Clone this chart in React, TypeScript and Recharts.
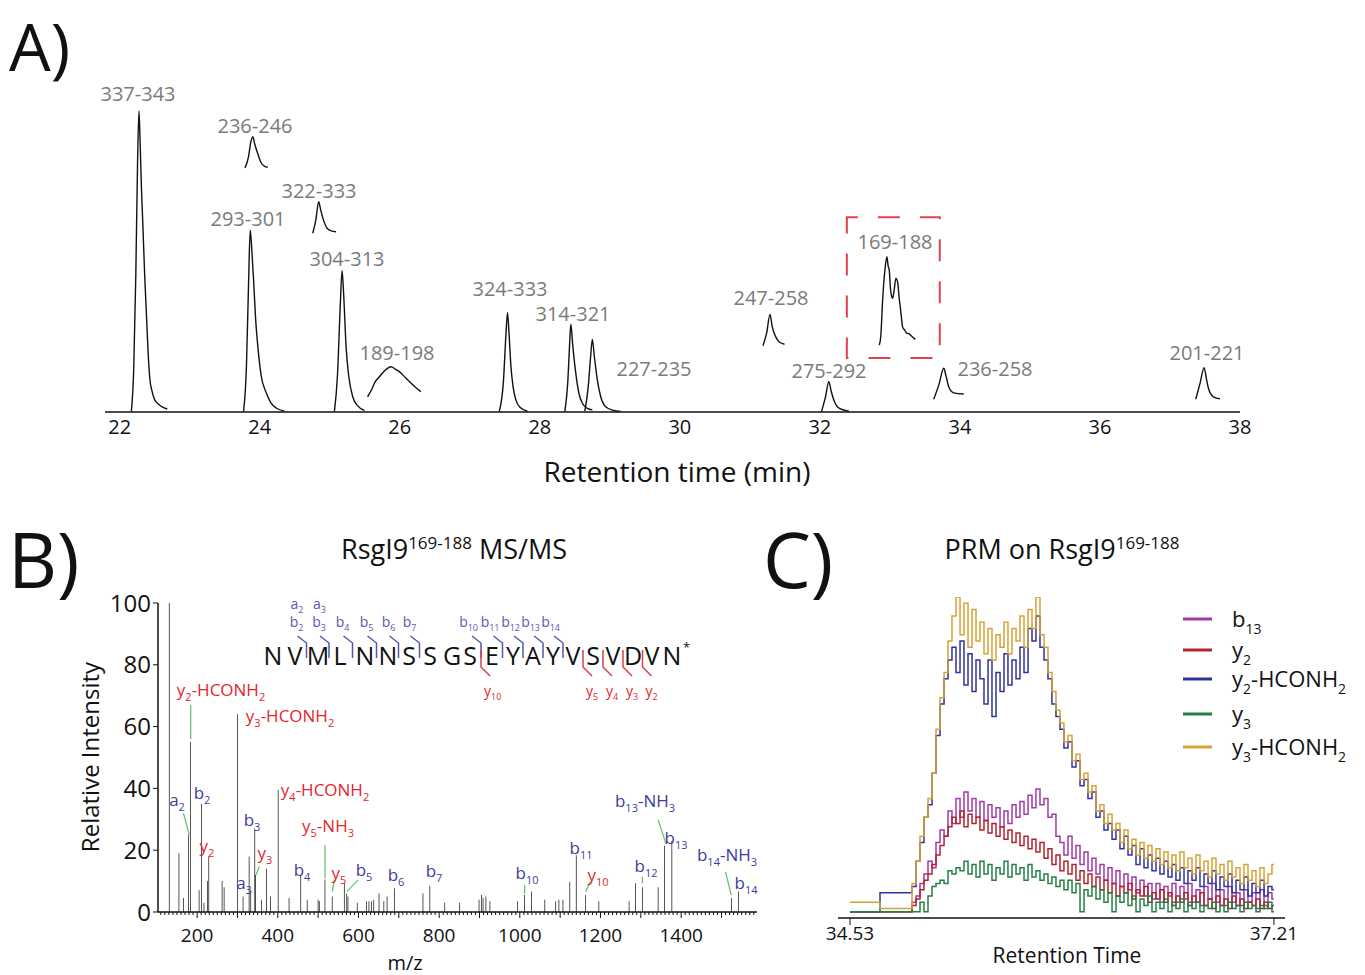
import React from "react";
import {
  Bar,
  BarChart,
  Line,
  LineChart,
  ReferenceArea,
  ReferenceLine,
  XAxis,
  YAxis,
} from "recharts";

const FONT = "'Open Sans', 'Noto Sans', sans-serif";
const INK = "#111";

// ---------- Panel A: chromatogram (retention time in min, relative intensity)
const A_TICKS = [22, 24, 26, 28, 30, 32, 34, 36, 38];

const PEAK_LABELS = [
  "337-343", "236-246", "322-333", "293-301", "304-313", "189-198", "324-333",
  "314-321", "227-235", "247-258", "275-292", "169-188", "236-258", "201-221",
];
// label anchor (page px) for each peak label
const PEAK_LABEL_POS = [
  [138, 101], [255, 133], [319, 198], [248, 226], [347, 266], [397, 360], [510, 296],
  [573, 321], [654, 376], [771, 305], [829, 378], [895, 249], [995, 376], [1207, 360],
];

const P_337_343 = [[22.167, 0.3], [22.2, 14], [22.23, 45], [22.255, 82], [22.275, 99], [22.29, 90], [22.31, 74], [22.33, 62], [22.355, 46], [22.38, 33], [22.405, 20], [22.43, 11], [22.46, 7], [22.5, 4], [22.56, 2.5], [22.62, 1.5], [22.68, 1.0]];
const P_236_246 = [[23.79, 80.3], [23.84, 84], [23.87, 88.5], [23.9, 90.6], [23.93, 88], [23.97, 85.1], [24.02, 82], [24.07, 80.8], [24.115, 80.5]];
const P_293_301 = [[23.769, 0.2], [23.81, 15], [23.84, 42], [23.864, 59.9], [23.89, 52], [23.912, 43.4], [23.94, 31], [23.973, 21.5], [24.02, 12], [24.093, 6.3], [24.16, 3], [24.235, 1.3], [24.354, 0.3]];
const P_322_333 = [[24.757, 58.8], [24.8, 63], [24.842, 69.2], [24.87, 66.5], [24.91, 63.2], [24.96, 60.5], [25.02, 59.6], [25.09, 59.3]];
const P_304_313 = [[25.067, 0.3], [25.11, 12], [25.15, 35], [25.176, 46.5], [25.2, 38], [25.233, 21.5], [25.27, 12], [25.328, 5], [25.4, 2], [25.495, 0.5]];
const P_189_198 = [[25.54, 5], [25.6, 7.5], [25.65, 10], [25.709, 11.6], [25.78, 13.5], [25.876, 14.9], [25.94, 14], [25.994, 13.3], [26.06, 11.8], [26.137, 10], [26.22, 8.2], [26.3, 6.7]];
const P_324_333 = [[27.421, 0.2], [27.48, 10], [27.515, 25], [27.539, 32.7], [27.56, 26], [27.588, 14.9], [27.62, 8], [27.659, 3.9], [27.72, 1.5], [27.824, 0.3]];
const P_314_321 = [[28.358, 0.2], [28.4, 10], [28.425, 22], [28.443, 28.9], [28.47, 22], [28.514, 12.7], [28.56, 6], [28.608, 2.9], [28.68, 1.2], [28.75, 0.7]];
const P_227_235 = [[28.643, 0.3], [28.69, 8], [28.725, 18], [28.75, 23.9], [28.78, 18], [28.822, 10.5], [28.87, 5], [28.941, 1.7], [29.04, 0.6], [29.155, 0.2]];
const P_247_258 = [[31.187, 21.8], [31.24, 26], [31.287, 32.1], [31.32, 28], [31.368, 24.8], [31.42, 23], [31.495, 22.3]];
const P_275_292 = [[32.024, 0.2], [32.08, 5], [32.128, 10], [32.16, 7], [32.2, 3.9], [32.28, 1.2], [32.414, 0.3]];
const P_169_188 = [[32.849, 22], [32.87, 25], [32.896, 36.8], [32.93, 47], [32.957, 51.1], [32.975, 48], [32.991, 46.7], [33.006, 41.2], [33.02, 38.5], [33.039, 37.4], [33.06, 40], [33.086, 44], [33.1, 43.5], [33.114, 42.3], [33.13, 38], [33.148, 34.6], [33.165, 31], [33.181, 28], [33.21, 27], [33.242, 25.9], [33.27, 25.8], [33.293, 25.3], [33.33, 24.5], [33.362, 23.9]];
const P_236_258 = [[33.626, 4.2], [33.7, 9], [33.769, 14.4], [33.8, 12], [33.84, 8.3], [33.911, 6.3], [34.054, 5.9]];
const P_201_221 = [[37.368, 4.2], [37.43, 9.5], [37.487, 14.6], [37.52, 11], [37.549, 7.8], [37.62, 5], [37.716, 4.3]];

const PEAKS = [
  P_337_343, P_236_246, P_293_301, P_322_333, P_304_313, P_189_198, P_324_333,
  P_314_321, P_227_235, P_247_258, P_275_292, P_169_188, P_236_258, P_201_221,
];

// boxed peak (169-188): [x1, x2, y1, y2]
const BOX_169_188 = [32.385, 33.712, 17.8, 64.1];

// ---------- Panel B: MS/MS spectrum
const MZ = [
  131, 155, 166, 179, 184, 205, 211, 217, 226, 229,
  262, 267, 300.5, 314, 329, 333, 343, 345, 360, 372,
  382, 401, 428, 457, 473, 500, 503, 517, 535, 565,
  571, 574, 597, 620, 626, 632, 638, 651, 663, 671,
  689, 760, 777, 814, 851, 899, 905, 909, 916, 926,
  994, 1012, 1029, 1062, 1089, 1097, 1107, 1124, 1140, 1163,
  1196, 1271, 1287, 1304, 1343, 1359, 1377, 1525, 1542,
];
const REL_INT = [
  100, 19, 4.5, 25, 55, 7, 35, 3, 10, 18,
  10, 8, 64, 5, 18, 7, 27, 12, 4, 14,
  5, 39.5, 4.5, 12, 4, 4, 3.5, 10.5, 5, 9.5,
  6, 5, 3, 3.5, 3.5, 3.5, 4, 6, 3.5, 5,
  7.7, 6, 8.5, 3, 3, 4, 5.5, 4.5, 5, 3.5,
  3.5, 5.5, 6.6, 4, 3.5, 4, 4, 9.8, 18.4, 5.5,
  3.5, 3.5, 9.3, 8, 8, 21.4, 23, 4.5, 6.6,
];
const MZ_TICK_LABELS = [200, 400, 600, 800, 1000, 1200, 1400];
const INT_TICKS = [0, 20, 40, 60, 80, 100];

// leader lines from label to peak: [mz1, int1, mz2, int2]
const LEADERS = [
  [184, 67, 184, 56], [166, 32, 180.5, 25], [354, 14.7, 346, 12], [517, 21.7, 517, 10.9],
  [540, 10.4, 535, 6.6], [599, 10.4, 571, 6.6], [1012, 8.7, 1012, 6], [1175, 9.8, 1163, 6.6],
  [1304, 11.4, 1304, 9.3], [1343, 29.8, 1362, 22.2], [1510, 13, 1524, 5.5],
];

const ION_LABELS = [
  "y_2-HCONH_2", "y_3-HCONH_2", "a_2", "b_2", "y_2", "b_3", "y_3", "a_3", "y_4-HCONH_2",
  "y_5-NH_3", "b_4", "y_5", "b_5", "b_6", "b_7", "b_10", "b_11", "y_10", "b_12",
  "b_13-NH_3", "b_13", "b_14-NH_3", "b_14",
];
const ION_POS = [
  [221, 696], [290, 722], [177, 806], [202, 799], [207, 852], [252, 826], [265, 859], [244, 889], [325, 796],
  [328, 832], [302, 876], [339, 879], [364, 876], [396, 881], [434, 877], [527, 879], [581, 854], [598, 881], [646, 872],
  [645, 807], [676, 844], [727, 861], [746, 889],
];

const RESIDUES = ["N", "V", "M", "L", "N", "N", "S", "S", "G", "S", "E", "Y", "A", "Y", "V", "S", "V", "D", "V", "N"];
const RES_X = [273, 295, 318, 340, 365, 388, 409, 430, 452, 470, 492, 513, 533, 553, 573, 593, 613, 633, 652, 672];
const B_FRAGS = [2, 3, 4, 5, 6, 7, 10, 11, 12, 13, 14];
const A_FRAGS = [2, 3];
const Y_FRAGS = [10, 5, 4, 3, 2];

// ---------- Panel C: PRM traces
const TIME = [
  34.53, 34.909, 34.935, 34.960, 34.985, 35.010, 35.036, 35.061, 35.086, 35.112,
  35.137, 35.162, 35.187, 35.213, 35.238, 35.263, 35.289, 35.314, 35.339, 35.364,
  35.390, 35.415, 35.440, 35.466, 35.491, 35.516, 35.541, 35.567, 35.592, 35.617,
  35.643, 35.668, 35.693, 35.718, 35.744, 35.769, 35.794, 35.819, 35.845, 35.870,
  35.895, 35.921, 35.946, 35.971, 35.997, 36.022, 36.047, 36.072, 36.098, 36.123,
  36.148, 36.174, 36.199, 36.224, 36.249, 36.275, 36.300, 36.325, 36.351, 36.376,
  36.401, 36.426, 36.452, 36.477, 36.502, 36.528, 36.553, 36.578, 36.603, 36.629,
  36.654, 36.679, 36.705, 36.730, 36.755, 36.781, 36.806, 36.831, 36.856, 36.882,
  36.907, 36.932, 36.958, 36.983, 37.008, 37.033, 37.059, 37.084, 37.109, 37.135,
  37.160, 37.185, 37.210,
];
const B13 = [
  0, 0, 3, 5, 9, 12, 16, 14, 22, 26,
  24, 32, 28, 36, 30, 38, 32, 36, 30, 35,
  29, 34, 30, 33, 27, 32, 28, 34, 30, 35,
  31, 37, 33, 39, 34, 36, 30, 31, 24, 22,
  18, 24, 17, 21, 15, 19, 13, 17, 12, 15,
  10, 14, 9, 13, 8, 12, 7, 11, 6, 10,
  5, 9, 4, 9, 3, 8, 5, 9, 3, 8,
  4, 9, 3, 7, 2, 8, 4, 9, 3, 7,
  2, 8, 3, 6, 2, 7, 3, 6, 1, 7,
  2, 6, 4,
];
const Y2 = [
  0, 0, 2, 4, 7, 10, 12, 15, 18, 21,
  24, 27, 30, 28, 32, 27, 31, 28, 30, 26,
  29, 25, 28, 24, 27, 23, 26, 22, 25, 21,
  24, 20, 23, 19, 22, 17, 20, 15, 18, 13,
  16, 12, 15, 10, 13, 9, 12, 8, 11, 7,
  10, 6, 9, 5, 8, 6, 9, 4, 7, 5,
  8, 3, 6, 4, 7, 3, 6, 2, 5, 3,
  6, 2, 5, 3, 6, 2, 4, 1, 5, 2,
  4, 1, 5, 2, 4, 1, 3, 2, 4, 1,
  3, 1, 2,
];
const Y2_HCONH2 = [
  0, 6, 8, 16, 22, 30, 34, 44, 56, 66,
  74, 80, 84, 76, 86, 72, 82, 70, 80, 74,
  66, 80, 62, 76, 70, 82, 72, 80, 74, 84,
  76, 90, 86, 94, 84, 80, 74, 66, 62, 58,
  52, 54, 46, 48, 40, 42, 36, 38, 30, 32,
  26, 28, 23, 26, 20, 24, 18, 21, 15, 20,
  14, 18, 13, 17, 12, 16, 11, 15, 10, 14,
  9, 13, 10, 14, 8, 12, 9, 13, 7, 11,
  8, 12, 6, 10, 7, 11, 5, 9, 6, 10,
  5, 8, 7,
];
const Y3 = [
  0, 0, 0, 0, 3, 0, 5, 8, 9, 10,
  9, 13, 12, 14, 13, 16, 12, 15, 11, 16,
  12, 15, 10, 14, 12, 16, 11, 15, 12, 14,
  10, 15, 11, 13, 10, 12, 9, 11, 8, 10,
  7, 10, 6, 9, 0, 7, 5, 8, 4, 7,
  3, 6, 0, 5, 3, 6, 2, 5, 0, 4,
  2, 5, 0, 3, 1, 4, 0, 3, 1, 4,
  0, 3, 1, 3, 0, 2, 1, 3, 0, 2,
  0, 3, 1, 2, 0, 3, 1, 2, 0, 2,
  1, 3, 0,
];
const Y3_HCONH2 = [
  3, 1, 9, 16, 24, 30, 36, 44, 58, 68,
  76, 86, 94, 100, 88, 98, 84, 96, 86, 92,
  82, 90, 80, 88, 84, 92, 82, 90, 86, 94,
  84, 96, 90, 100, 88, 84, 76, 70, 64, 60,
  54, 56, 48, 50, 42, 44, 38, 40, 32, 34,
  28, 31, 26, 28, 22, 26, 20, 23, 18, 22,
  17, 21, 16, 20, 15, 19, 14, 18, 13, 19,
  14, 17, 12, 18, 13, 16, 11, 17, 12, 15,
  10, 16, 11, 14, 9, 15, 10, 13, 8, 14,
  9, 12, 15,
];
const PRM_KEYS = ["b13", "y2", "y2h", "y3", "y3h"];
const PRM_NAMES = ["b_13", "y_2", "y_2-HCONH_2", "y_3", "y_3-HCONH_2"];
const PRM_COLORS = ["#a03aa8", "#b3232e", "#30339a", "#238044", "#d6a234"];
const PRM_TICKS = [34.53, 37.21];

const prmRows = TIME.map((t, i) => ({
  t,
  b13: B13[i],
  y2: Y2[i],
  y2h: Y2_HCONH2[i],
  y3: Y3[i],
  y3h: Y3_HCONH2[i],
}));

const sticks = MZ.map((mz, i) => ({ mz, intensity: REL_INT[i] }));
const mzMinor: number[] = [];
for (let v = 110; v <= 1580; v += 10) mzMinor.push(v);

const RED = "#e3262e";
const BLUE = "#3b3b9c";
const GREEN = "#6cc070";

// text with "_n" subscripts, e.g. "y_2-HCONH_2"
function Ion({ x, y, label, size = 17, color = INK, anchor = "middle" }: any) {
  const bits = label.split(/_(\d+)/);
  const sub = Math.round(size * 0.62);
  const shift = size * 0.3;
  const spans: any[] = [];
  bits.forEach((b: string, k: number) => {
    if (b === "") return;
    if (k % 2 === 1) {
      spans.push(<tspan key={k} fontSize={sub} dy={shift}>{b}</tspan>);
    } else {
      spans.push(<tspan key={k} fontSize={size} dy={k > 0 ? -shift : 0}>{b}</tspan>);
    }
  });
  return (
    <text x={x} y={y} fill={color} textAnchor={anchor} fontFamily={FONT}>
      {spans}
    </text>
  );
}

function MzTick(props: any) {
  const { x, y, payload } = props;
  const v = payload.value;
  const major = v % 100 === 0;
  return (
    <g>
      <line x1={x} x2={x} y1={y} y2={y + (major ? 6 : 3)} stroke={INK} strokeWidth={1} />
      {MZ_TICK_LABELS.includes(v) && (
        <text x={x} y={y + 30} textAnchor="middle" fontSize={19} fill={INK} fontFamily={FONT}>
          {v}
        </text>
      )}
    </g>
  );
}

function Peptide() {
  const gap = (i: number) => (RES_X[i - 1] + RES_X[i]) / 2;
  return (
    <g fontFamily={FONT}>
      {RESIDUES.map((r, i) => (
        <text key={i} x={RES_X[i]} y={665} textAnchor="middle" fontSize={25} fill={INK}>
          {r}
        </text>
      ))}
      <text x={683} y={652} fontSize={13} fill={INK}>*</text>
      {B_FRAGS.map((n) => {
        const g = gap(n);
        return (
          <g key={`b${n}`}>
            <path d={`M${g - 9},636 L${g},643 L${g},658`} stroke="#5656ad" strokeWidth={1.5} fill="none" />
            <Ion x={g - 3} y={627} label={`b_${n}`} size={14} color="#5a5ab0" anchor="end" />
          </g>
        );
      })}
      {A_FRAGS.map((n) => (
        <Ion key={`a${n}`} x={gap(n) - 3} y={609} label={`a_${n}`} size={14} color="#5a5ab0" anchor="end" />
      ))}
      {Y_FRAGS.map((n) => {
        const g = gap(20 - n);
        return (
          <g key={`y${n}`}>
            <path d={`M${g},650 L${g},667 L${g + 9},676`} stroke="#d6404c" strokeWidth={1.5} fill="none" />
            <Ion x={g + 3} y={696} label={`y_${n}`} size={14} color={RED} anchor="start" />
          </g>
        );
      })}
    </g>
  );
}

function Overlay() {
  const legendY = [619, 650, 679, 714, 747];
  return (
    <svg
      width={1365}
      height={975}
      style={{ position: "absolute", left: 0, top: 0, pointerEvents: "none" }}
      fontFamily={FONT}
    >
      {/* panel letters */}
      <text x={9} y={71} fontSize={66} fill={INK}>A)</text>
      <text x={8} y={588} fontSize={76} fill={INK}>B)</text>
      <text x={763} y={588} fontSize={76} fill={INK}>C)</text>

      {/* panel A */}
      {PEAK_LABELS.map((s, i) => (
        <text key={s + i} x={PEAK_LABEL_POS[i][0]} y={PEAK_LABEL_POS[i][1]} textAnchor="middle" fontSize={20} fill="#7a7a7a">
          {s}
        </text>
      ))}
      <text x={677} y={482} textAnchor="middle" fontSize={28} fill={INK}>Retention time (min)</text>

      {/* panel B */}
      <text x={454} y={559} textAnchor="middle" fontSize={27} fill={INK}>
        <tspan>RsgI9</tspan>
        <tspan fontSize={17} dy={-10}>169-188</tspan>
        <tspan dy={10}> MS/MS</tspan>
      </text>
      <text transform="translate(99,757) rotate(-90)" textAnchor="middle" fontSize={24} fill={INK}>
        Relative Intensity
      </text>
      <text x={405} y={970} textAnchor="middle" fontSize={20} fill={INK}>m/z</text>
      <Peptide />
      {ION_LABELS.map((s, i) => (
        <Ion key={s + i} x={ION_POS[i][0]} y={ION_POS[i][1]} label={s} size={17} color={s.startsWith("y") ? RED : BLUE} />
      ))}

      {/* panel C */}
      <text x={1062} y={559} textAnchor="middle" fontSize={27} fill={INK}>
        <tspan>PRM on RsgI9</tspan>
        <tspan fontSize={17} dy={-10}>169-188</tspan>
      </text>
      <text x={1067} y={963} textAnchor="middle" fontSize={21} fill={INK}>Retention Time</text>
      {PRM_NAMES.map((n, i) => (
        <g key={n}>
          <line x1={1183} x2={1212} y1={legendY[i]} y2={legendY[i]} stroke={PRM_COLORS[i]} strokeWidth={3} />
          <Ion x={1232} y={legendY[i] + 8} label={n} size={22} color={INK} anchor="start" />
        </g>
      ))}
    </svg>
  );
}

export default function App() {
  return (
    <div
      style={{
        position: "absolute",
        left: 0,
        top: 0,
        width: 1365,
        height: 975,
        background: "#fff",
        overflow: "hidden",
        fontFamily: FONT,
      }}
    >
      {/* A */}
      <div style={{ position: "absolute", left: 0, top: 0 }}>
        <LineChart width={1365} height={500} margin={{ top: 108, right: 125, bottom: 58, left: 105 }}>
          <XAxis
            dataKey="x"
            type="number"
            domain={[21.79, 38]}
            ticks={A_TICKS}
            interval={0}
            allowDataOverflow
            height={30}
            tickLine={false}
            tickSize={6}
            axisLine={{ stroke: INK, strokeWidth: 1.5 }}
            tick={{ fontSize: 20, fill: INK, fontFamily: FONT }}
          />
          <YAxis hide type="number" domain={[0, 100]} allowDataOverflow />
          <ReferenceArea
            x1={BOX_169_188[0]}
            x2={BOX_169_188[1]}
            y1={BOX_169_188[2]}
            y2={BOX_169_188[3]}
            fill="none"
            stroke="#e4414f"
            strokeWidth={2}
            strokeDasharray="22 20"
            strokeDashoffset={11}
            ifOverflow="visible"
          />
          {PEAKS.map((p, i) => (
            <Line
              key={i}
              data={p.map(([x, y]) => ({ x, y }))}
              dataKey="y"
              type="monotone"
              stroke={INK}
              strokeWidth={1.4}
              dot={false}
              isAnimationActive={false}
            />
          ))}
        </LineChart>
      </div>

      {/* B */}
      <div style={{ position: "absolute", left: 0, top: 520 }}>
        <BarChart width={800} height={455} data={sticks} margin={{ top: 83, right: 43, bottom: 33, left: 98 }}>
          <XAxis
            dataKey="mz"
            type="number"
            domain={[103, 1588]}
            ticks={mzMinor}
            interval={0}
            allowDataOverflow
            height={30}
            tickSize={0}
            tickMargin={0}
            tickLine={false}
            tick={<MzTick />}
            axisLine={{ stroke: INK, strokeWidth: 1.5 }}
          />
          <YAxis
            type="number"
            domain={[0, 100]}
            ticks={INT_TICKS}
            interval={0}
            width={60}
            tickSize={5}
            axisLine={{ stroke: INK, strokeWidth: 1.5 }}
            tickLine={{ stroke: INK }}
            tick={{ fontSize: 24, fill: INK, fontFamily: FONT }}
          />
          <Bar dataKey="intensity" fill="#161616" barSize={1.4} isAnimationActive={false} />
          {LEADERS.map((l, i) => (
            <ReferenceLine
              key={i}
              segment={[{ x: l[0], y: l[1] }, { x: l[2], y: l[3] }]}
              stroke={GREEN}
              strokeWidth={1.3}
              ifOverflow="visible"
            />
          ))}
        </BarChart>
      </div>

      {/* C */}
      <div style={{ position: "absolute", left: 800, top: 520 }}>
        <LineChart width={565} height={455} data={prmRows} margin={{ top: 77, right: 80, bottom: 27, left: 38 }}>
          <XAxis
            dataKey="t"
            type="number"
            domain={[34.454, 37.28]}
            ticks={PRM_TICKS}
            interval={0}
            allowDataOverflow
            height={30}
            tickSize={7}
            tickFormatter={(v: number) => v.toFixed(2)}
            tickLine={{ stroke: INK }}
            axisLine={{ stroke: INK, strokeWidth: 1.5 }}
            tick={{ fontSize: 19, fill: INK, fontFamily: FONT }}
          />
          <YAxis hide type="number" domain={[-2, 100]} allowDataOverflow />
          {PRM_KEYS.map((k, i) => (
            <Line
              key={k}
              dataKey={k}
              type="step"
              stroke={PRM_COLORS[i]}
              strokeWidth={1.5}
              dot={false}
              isAnimationActive={false}
            />
          ))}
        </LineChart>
      </div>

      <Overlay />
    </div>
  );
}
